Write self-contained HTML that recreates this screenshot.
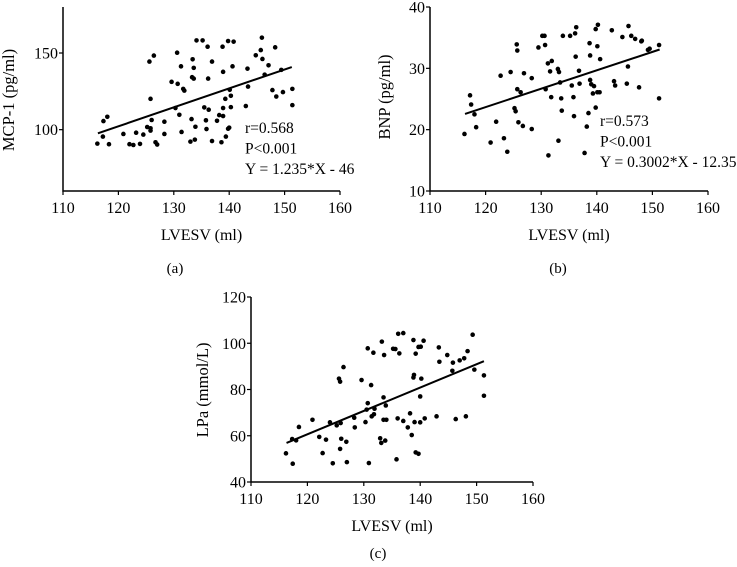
<!DOCTYPE html>
<html><head><meta charset="utf-8"><style>
html,body{margin:0;padding:0;background:#fff;}
svg{display:block;font-family:"Liberation Serif",serif;}
</style></head><body>
<svg id="fig" width="737" height="567" viewBox="0 0 737 567"></svg>
<script>
const ticksX=[110,120,130,140,150,160];
const aTicksY=[100,150];
const bTicksY=[10,20,30,40];
const cTicksY=[40,60,80,100,120];
const aX=[116.2,117.2,117.3,118,118.3,120.9,122,122.7,123.2,123.9,124.5,125.2,125.6,125.8,125.8,125.8,126,126.4,126.7,127,128.3,128.3,129.6,130.6,130.7,130.3,131,131.3,131.4,131.7,131.9,133,133.2,133.3,133.4,133.6,133.6,133.8,133.9,134.1,135.2,135.5,135.8,135.9,136.1,136.2,136.3,136.9,136.9,137.8,138.2,138.6,138.8,138.9,138.9,138.9,139.4,139.3,139.8,140,139.8,140.1,140.3,140.3,140.6,140.8,143,143.3,143.4,144.8,145.7,145.9,146,146.4,147.1,147.8,148.3,148.5,149.4,149.7,151.4,151.4];
const aY=[90.9,95.5,105.6,108.4,90.5,97.2,90.5,90,98,90.7,96.8,101.7,144.4,120.1,100.9,99.4,106.3,148.3,91.8,90.3,105.2,97.2,131.2,150.2,129.9,114.1,109.7,141.3,98.5,126.6,125.5,92.2,106.9,134.2,145.9,133.3,140.3,93.5,101.9,158.2,158.2,114.5,106.1,100.4,154.1,133.3,113,144.4,92.6,105.8,109.5,91.8,154.1,137.7,108.9,114.1,95.5,120.1,100.6,101.3,157.8,126,122.1,114.7,141.3,157.4,115.4,139.8,128.1,148.5,151.9,160,146.1,135.9,142,125.8,153.7,121.6,139,124.5,126.6,116];
const bX=[116.2,117.2,117.4,118,118.3,120.9,121.9,122.7,123.3,123.9,124.5,125.2,125.4,125.6,125.7,125.7,125.9,126.3,126.7,126.9,128.3,128.3,129.5,130.2,130.6,130.7,130.8,131.2,131.3,131.6,131.8,131.9,133,133.1,133.2,133.4,133.6,133.7,133.9,135.2,135.5,135.8,135.9,136.1,136.2,136.3,136.8,136.9,137.8,138.2,138.5,138.7,138.8,138.8,139,139.3,139.5,139.8,139.8,140.2,140.1,140.1,140.5,140.6,142.7,143.1,143.3,144.6,145.4,145.6,145.7,146.2,146.9,147.6,148,148.1,149.2,149.5,151.2,151.2];
const bY=[19.3,25.6,24.1,22.5,20.4,17.9,21.3,28.8,18.6,16.4,29.4,23.5,23,33.9,32.9,26.6,21.2,26.1,20.6,29.2,28.4,20.1,33.4,35.3,35.3,33.8,26.6,30.8,15.8,29.5,25.3,31.2,29.9,18.2,29.4,27.7,25.1,23.1,35.3,35.3,27.2,25.3,22.2,35.7,31.9,36.7,29.6,27.5,16.2,20.5,22.7,34.1,32.1,28.1,27.4,25.9,27.1,23.6,36.4,37.1,33.6,26.1,26.1,31.5,36.2,27.9,27.2,35.1,27.5,30.3,36.9,35.3,34.8,26.9,34.4,34.5,33,33.2,25.1,33.8];
const cX=[116.2,117.3,117.4,118,118.5,120.9,122.1,122.7,123.3,124,124.5,125.2,125.6,125.8,125.8,125.9,126,126.4,126.9,127,128.3,128.4,129.6,130.3,130.5,130.7,130.7,130.9,131.3,131.4,131.7,131.8,131.9,132.9,133.1,133.2,133.5,133.5,133.8,133.6,134,133.9,135.2,135.6,135.8,136,136.1,136.3,137,137,137.8,138.2,138.5,138.8,138.8,138.9,139,139.2,139.2,139.7,139.7,140,140.1,140.2,140,140.6,140.8,142.9,143.3,143.4,144.8,145.8,145.7,146.3,147,147.8,148.1,148.4,149.3,149.6,151.3,151.3];
const cY=[52.4,58.6,47.9,58,63.8,66.9,59.5,52.5,58.3,65.8,48.1,64.5,84.7,83.4,54.3,65.5,58.7,89.7,57.4,48.6,67.8,63.6,84.1,65.9,71.3,74.1,97.8,48.2,81.9,68.4,95.9,69.3,71.7,58.9,56.9,100.7,76.6,66.9,57.9,94.9,66.9,73.1,97.6,97.5,49.8,67.5,104.1,95.6,104.4,66.4,63.6,69.7,60.3,101.4,85.2,86.3,65.9,95.5,52.8,52.2,98.4,77,98.5,84.7,65.8,101.1,67.5,68.4,98.2,92,94.9,91.6,88.1,67.2,92.6,93.5,68.4,96.6,103.7,88.6,86.1,77.3];
const fitA=[1.235,-46], fitB=[0.3002,-12.35], fitC=[1.011,-60.7];
const fitRange=[116.3,151.3];

const NS='http://www.w3.org/2000/svg';
const svg=document.getElementById('fig');
function mk(tag,attrs,parent,txt){const e=document.createElementNS(NS,tag);for(const k in attrs)e.setAttribute(k,attrs[k]);if(txt!==undefined)e.textContent=txt;(parent||svg).appendChild(e);return e;}

function panel(id,ox,x1,top,bottom,yMin,yMax,ticksY,xs,ys,fit,ylabel,ylx,yly,cap,capx,capy,notes){
  const g=mk('g',{},svg);
  
  
  const sx=v=>ox+(v-110)/(50)*(x1-ox);
  const sy=v=>bottom-(v-yMin)/(yMax-yMin)*(bottom-top);
  const ax=mk('path',{d:`M${ox},${top}V${bottom}H${x1}`,fill:'none',stroke:'#000','stroke-width':1.5},g);
  
  
  ticksX.forEach(t=>{
    mk('line',{x1:sx(t),x2:sx(t),y1:bottom,y2:bottom+4,stroke:'#000','stroke-width':1.2},g);
    const l=mk('text',{x:sx(t),y:bottom+22,'text-anchor':'middle','font-size':16},g,String(t));
    
    
  });
  ticksY.forEach(t=>{
    mk('line',{x1:ox-4,x2:ox,y1:sy(t),y2:sy(t),stroke:'#000','stroke-width':1.2},g);
    const l=mk('text',{x:ox-5,y:sy(t)+5.5,'text-anchor':'end','font-size':16},g,String(t));
    
    
  });
  xs.forEach((x,i)=>{
    const c=mk('circle',{cx:sx(x),cy:sy(ys[i]),r:2.3,fill:'#000'},g);
    
    
  });
  const fl=mk('line',{x1:sx(fitRange[0]),y1:sy(fit[0]*fitRange[0]+fit[1]),x2:sx(fitRange[1]),y2:sy(fit[0]*fitRange[1]+fit[1]),stroke:'#000','stroke-width':2},g);
  
  
  const xt=mk('text',{x:(ox+x1)/2,y:bottom+49,'text-anchor':'middle','font-size':16},g,'LVESV (ml)');
  
  
  const yt=mk('text',{x:0,y:0,'text-anchor':'middle','font-size':16.5,transform:`translate(${ylx},${yly}) rotate(-90)`},g,ylabel);
  
  
  const cp=mk('text',{x:capx,y:capy,'text-anchor':'middle','font-size':15},g,cap);
  
  
  if(notes){notes.lines.forEach((s,i)=>{
    const n=mk('text',{x:notes.x,y:notes.y+i*20.5,'font-size':15.5},g,s);
    
    
  });}
}
panel('a',63,340,7,191,60,180,aTicksY,aX,aY,fitA,'MCP-1 (pg/ml)',14,100,'(a)',175,273,{x:245,y:133,lines:['r=0.568','P<0.001','Y = 1.235*X - 46']});
panel('b',430,708,7,191,10,40,bTicksY,bX,bY,fitB,'BNP (pg/ml)',390,97,'(b)',558,273,{x:600,y:126,lines:['r=0.573','P<0.001','Y = 0.3002*X - 12.35']});
panel('c',251,533,297,482,40,120,cTicksY,cX,cY,fitC,'LPa (mmol/L)',208,390,'(c)',378,558,null);
</script>
</body></html>
